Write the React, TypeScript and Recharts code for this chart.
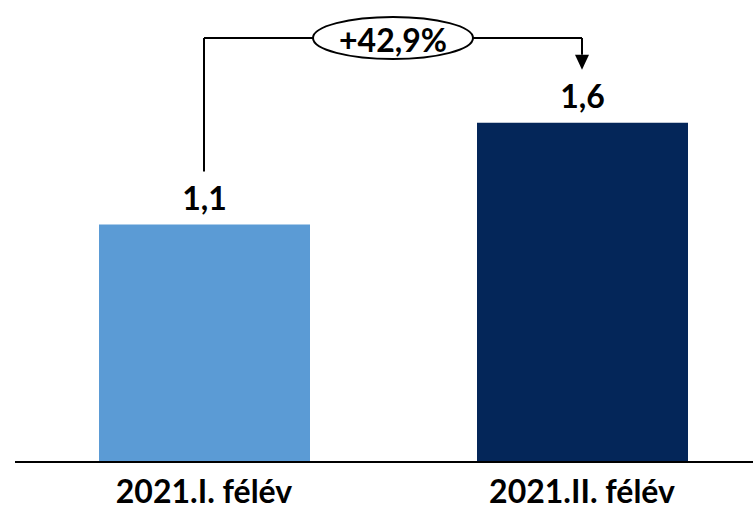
import { BarChart, Bar, XAxis, YAxis, Cell, LabelList, ReferenceLine } from 'recharts';

const periods = ['2021.I. félév', '2021.II. félév'];
const values = [1.12, 1.6];
const colors = ['#5B9BD5', '#042659'];
const changeLabel = '+42,9%';

const data = periods.map((p, i) => ({ period: p, value: values[i] }));

const FONT = 'Lato, "Open Sans", sans-serif';
const FS = 32;

const fmt = (v: number) => v.toFixed(1).replace('.', ',');

function EllipseLabel(props: any) {
  const vb = props.viewBox || {};
  const cx = vb.x + vb.width / 2;
  const cy = vb.y;
  return (
    <g>
      <ellipse cx={cx} cy={cy} rx={80} ry={21} fill="#fff" stroke="#000" strokeWidth={2} />
      <text x={cx} y={cy + 1} textAnchor="middle" dominantBaseline="central" fontFamily={FONT} fontWeight={700} fontSize={FS} fill="#000">
        {changeLabel}
      </text>
    </g>
  );
}

function ArrowShape(props: any) {
  const { x1, y1, x2, y2 } = props;
  const head = 15;
  return (
    <g>
      <line x1={x1} y1={y1} x2={x2} y2={y2 - head} stroke="#000" strokeWidth={2} />
      <polygon points={`${x2 - 7},${y2 - head} ${x2 + 7},${y2 - head} ${x2},${y2}`} fill="#000" />
    </g>
  );
}

export default function App() {
  return (
    <div style={{ width: 753, height: 508, overflow: 'hidden', position: 'relative' }}>
      <style>{'body{margin:0}'}</style>
      <BarChart width={771} height={508} data={data} margin={{ top: 38, right: 0, left: 15, bottom: 0 }}>
        <YAxis hide domain={[0, 2]} />
        <XAxis
          dataKey="period"
          height={46}
          axisLine={{ stroke: '#000', strokeWidth: 2 }}
          tickLine={false}
          tick={{ fontFamily: FONT, fontWeight: 700, fontSize: FS, fill: '#000' }}
          tickMargin={12}
        />
        <ReferenceLine
          segment={[{ x: periods[0], y: 1.37 }, { x: periods[0], y: 2 }]}
          stroke="#000"
          strokeWidth={2}
          ifOverflow="visible"
        />
        <ReferenceLine
          segment={[{ x: periods[0], y: 2 }, { x: periods[1], y: 2 }]}
          stroke="#000"
          strokeWidth={2}
          ifOverflow="visible"
          label={<EllipseLabel />}
        />
        <ReferenceLine
          segment={[{ x: periods[1], y: 2 }, { x: periods[1], y: 1.85 }]}
          ifOverflow="visible"
          shape={<ArrowShape />}
        />
        <Bar dataKey="value" barSize={211} isAnimationActive={false}>
          {data.map((_, i) => (
            <Cell key={i} fill={colors[i]} />
          ))}
          <LabelList
            dataKey="value"
            position="top"
            offset={15}
            formatter={(v: any) => fmt(Number(v))}
            style={{ fontFamily: FONT, fontWeight: 700, fontSize: FS, fill: '#000' }}
          />
        </Bar>
      </BarChart>
    </div>
  );
}
